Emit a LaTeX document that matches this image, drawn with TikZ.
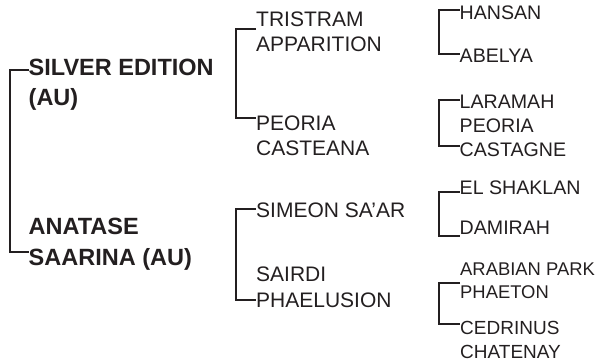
\documentclass[tikz,border=0pt]{standalone}
\usepackage{fontspec}
\setmainfont{Liberation Sans}
\definecolor{ink}{HTML}{231F20}
\begin{document}
\begin{tikzpicture}[x=1pt,y=-1pt,
  gone/.style={anchor=base west,inner sep=0pt,align=left,text=ink,font=\bfseries\fontsize{23.5}{30}\selectfont},
  gtwo/.style={anchor=base west,inner sep=0pt,align=left,text=ink,font=\fontsize{21}{25.5}\selectfont},
  gthree/.style={anchor=base west,inner sep=0pt,align=left,text=ink,font=\fontsize{19.6}{23.8}\selectfont},
  brk/.style={draw=ink,line width=2pt}]
\useasboundingbox (0,0) rectangle (607,363);
% generation 1 (positions are the baseline of the last line)
\node[gone] (silver) at (28.5,106) {SILVER EDITION\\(AU)};
\node[gone] (anatase) at (28.5,265) {ANATASE\\SAARINA (AU)};
% generation 2
\node[gtwo] (tristram) at (256,51.7) {TRISTRAM\\APPARITION};
\node[gtwo] (peoria) at (256,156) {PEORIA\\CASTEANA};
\node[gtwo] (simeon) at (256,217.3) {SIMEON SA'AR};
\node[gtwo] (sairdi) at (256,307.3) {SAIRDI\\PHAELUSION};
% generation 3
\node[gthree] (hansan) at (459.5,19.3) {HANSAN};
\node[gthree] (abelya) at (459.5,62.7) {ABELYA};
\node[gthree] (laramah) at (459.5,108.3) {LARAMAH};
\node[gthree] (peoriac) at (459.5,156.7) {PEORIA\\CASTAGNE};
\node[gthree] (elshaklan) at (459.5,195) {EL SHAKLAN};
\node[gthree] (damirah) at (459.5,234.3) {DAMIRAH};
\node[gthree,font=\fontsize{18.4}{23.3}\selectfont] (arabian) at (460,298.3) {ARABIAN PARK\\PHAETON};
\node[gthree,font=\fontsize{19}{23.5}\selectfont] (cedrinus) at (460,358.3) {CEDRINUS\\CHATENAY};
% tick end points
\coordinate (silverT) at (silver.west |- 0,70.3);
\coordinate (anataseT) at (anatase.west |- 0,252.3);
\coordinate (tristramT) at (tristram.west |- 0,29.3);
\coordinate (peoriaT) at (peoria.west |- 0,118.3);
\coordinate (simeonT) at (simeon.west |- 0,209.3);
\coordinate (sairdiT) at (sairdi.west |- 0,299.5);
\coordinate (hansanT) at (hansan.west |- 0,10);
\coordinate (abelyaT) at (abelya.west |- 0,54.3);
\coordinate (laramahT) at (laramah.west |- 0,100);
\coordinate (peoriacT) at (peoriac.west |- 0,145.7);
\coordinate (elshaklanT) at (elshaklan.west |- 0,191.7);
\coordinate (damirahT) at (damirah.west |- 0,236);
\coordinate (arabianT) at (arabian.west |- 0,283.3);
\coordinate (cedrinusT) at (cedrinus.west |- 0,324);
% brackets
\draw[brk] (silverT) -- ++(-19,0) |- (anataseT);
\draw[brk] (tristramT) -- ++(-20.5,0) |- (peoriaT);
\draw[brk] (simeonT) -- ++(-20.5,0) |- (sairdiT);
\draw[brk] (hansanT) -- ++(-21,0) |- (abelyaT);
\draw[brk] (laramahT) -- ++(-21,0) |- (peoriacT);
\draw[brk] (elshaklanT) -- ++(-21,0) |- (damirahT);
\draw[brk] (arabianT) -- ++(-21.5,0) |- (cedrinusT);
\end{tikzpicture}
\end{document}
